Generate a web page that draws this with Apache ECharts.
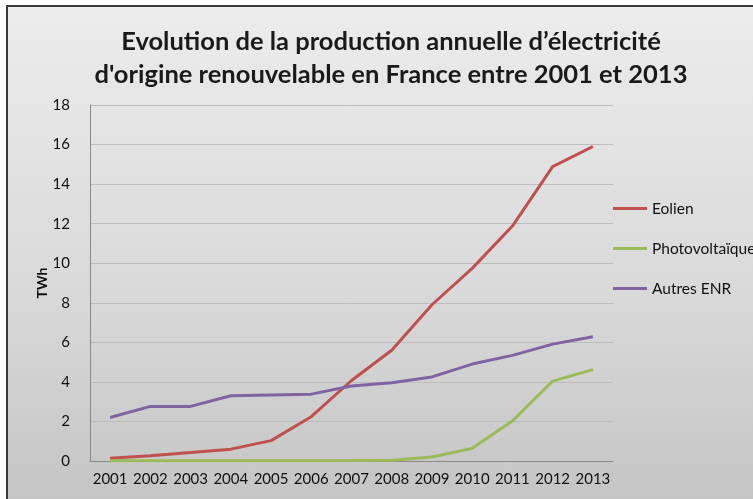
<!DOCTYPE html>
<html>
<head>
    <meta charset="utf-8"/>
    <title>Production électricité renouvelable</title>
    <style>
        html, body { margin: 0; padding: 0; background: #fff; overflow: hidden; }
        .cadre {
            position: absolute; left: 6px; top: 5px; width: 770px; height: 520px;
            border: 2px solid #3a3a3a;
            background: linear-gradient(to bottom, #ececec 0%, #d9d9d9 55%, #c2c2c2 100%);
        }
        #main { position: absolute; left: 0; top: 0; width: 753px; height: 499px; }
    </style>
</head>
<body>
<div class="cadre"></div>
<div id="main"></div>
<script src="https://cdn.jsdelivr.net/npm/echarts@6/dist/echarts.min.js"></script>
<script>
    // données (TWh)
    var annees = ['2001', '2002', '2003', '2004', '2005', '2006', '2007', '2008', '2009', '2010', '2011', '2012', '2013'];
    var eolien = [0.14, 0.27, 0.43, 0.6, 1.03, 2.24, 4.07, 5.6, 7.9, 9.74, 11.88, 14.88, 15.9];
    var photovoltaique = [0.01, 0.01, 0.01, 0.01, 0.01, 0.01, 0.02, 0.04, 0.2, 0.64, 2.02, 4.04, 4.62];
    var autresENR = [2.2, 2.76, 2.76, 3.3, 3.34, 3.38, 3.79, 3.96, 4.25, 4.9, 5.34, 5.91, 6.28];

    var chart = echarts.init(document.getElementById('main'));
    var option = {
        backgroundColor: 'transparent',
        animation: false,
        title: {
            text: 'Evolution de la production annuelle d’électricité\nd\'origine renouvelable en France entre 2001 et 2013',
            left: 386,
            top: 20,
            textAlign: 'center',
            textStyle: {
                fontFamily: 'Lato',
                fontWeight: 'bold',
                fontSize: 25.5,
                lineHeight: 33,
                color: '#1a1a1a'
            }
        },
        legend: {
            orient: 'vertical',
            left: 613,
            top: 200,
            padding: 0,
            icon: 'rect',
            itemWidth: 34,
            itemHeight: 3,
            itemGap: 23,
            textStyle: { fontFamily: 'Lato', fontSize: 15.5, color: '#111', lineHeight: 17 },
            data: ['Eolien', 'Photovoltaïque', 'Autres ENR']
        },
        grid: { left: 90, top: 105, right: 140, bottom: 38 },
        xAxis: {
            type: 'category',
            data: annees,
            boundaryGap: true,
            axisLine: { lineStyle: { color: '#888', width: 1 } },
            axisTick: { show: false },
            axisLabel: { interval: 0, hideOverlap: false, fontFamily: 'Lato', fontSize: 15, color: '#111', margin: 11 }
        },
        yAxis: {
            type: 'value',
            min: 0,
            max: 18,
            interval: 2,
            name: 'TWh',
            nameLocation: 'middle',
            nameGap: 41,
            nameMoveOverlap: false,
            nameTextStyle: { fontFamily: 'Lato', fontWeight: 'bold', fontSize: 14, color: '#111' },
            axisLine: { show: true, lineStyle: { color: '#888', width: 1 } },
            axisTick: { show: false },
            axisLabel: { fontFamily: 'Lato', fontSize: 15, color: '#111', margin: 20 },
            splitLine: { lineStyle: { color: '#bdbdbd', width: 1 } }
        },
        series: [
            {
                name: 'Eolien', type: 'line', data: eolien, symbol: 'none',
                lineStyle: { color: '#C0504D', width: 3 }, itemStyle: { color: '#C0504D' }
            },
            {
                name: 'Photovoltaïque', type: 'line', data: photovoltaique, symbol: 'none',
                lineStyle: { color: '#9BBB59', width: 3 }, itemStyle: { color: '#9BBB59' }
            },
            {
                name: 'Autres ENR', type: 'line', data: autresENR, symbol: 'none',
                lineStyle: { color: '#8064A2', width: 3 }, itemStyle: { color: '#8064A2' }
            }
        ]
    };
    chart.setOption(option);
</script>
</body>
</html>
